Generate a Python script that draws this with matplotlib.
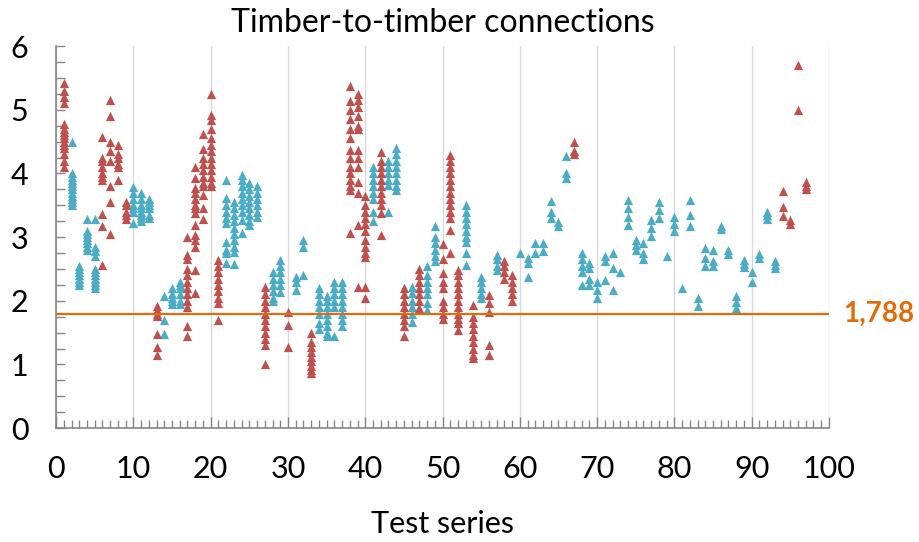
import matplotlib
matplotlib.use("Agg")
import matplotlib.pyplot as plt
from matplotlib.ticker import MultipleLocator

plt.rcParams['font.family'] = ['Lato', 'DejaVu Sans']

# ---- data ----
red_x = [1, 6, 7, 8, 9, 13, 17, 18, 19, 20, 21, 27, 30, 33, 38, 39, 40, 42, 45,
         47, 50, 51, 52, 54, 56, 58, 59, 67, 94, 95, 96, 97]
red_y = [
    [5.42, 5.3, 5.2, 5.1, 4.78, 4.7, 4.65, 4.6, 4.55, 4.5, 4.45, 4.4, 4.3, 4.2, 4.1],
    [4.57, 4.25, 4.2, 4.1, 4.0, 3.95, 3.9, 3.36, 3.17, 2.56],
    [5.16, 4.9, 4.5, 4.35, 4.2, 3.8, 3.55, 3.05],
    [4.45, 4.3, 4.25, 4.15, 4.1, 3.9],
    [3.55, 3.5, 3.4, 3.35, 3.28],
    [1.92, 1.85, 1.8, 1.76, 1.48, 1.28, 1.15],
    [3.0, 2.72, 2.65, 2.5, 2.4, 2.3, 2.2, 2.1, 2.0, 1.9, 1.6, 1.44],
    [4.1, 3.93, 3.77, 3.7, 3.6, 3.5, 3.45, 3.38, 3.19, 3.03, 2.95, 2.85, 2.48, 2.12],
    [4.62, 4.38, 4.25, 4.15, 4.05, 3.95, 3.85, 3.8, 3.66, 3.46, 3.29],
    [5.24, 4.92, 4.84, 4.69, 4.56, 4.45, 4.35, 4.25, 4.15, 4.05, 3.95, 3.85, 3.8],
    [2.64, 2.55, 2.45, 2.35, 2.25, 2.15, 2.05, 1.96, 1.7],
    [2.22, 2.1, 2.0, 1.9, 1.8, 1.7, 1.6, 1.5, 1.4, 1.3, 1.0],
    [1.83, 1.62, 1.27],
    [1.5, 1.35, 1.27, 1.2, 1.12, 1.05, 0.98, 0.92, 0.87],
    [5.37, 5.13, 5.0, 4.85, 4.7, 4.55, 4.37, 4.25, 4.1, 4.0, 3.9, 3.8, 3.74, 3.06],
    [5.24, 5.15, 5.05, 4.9, 4.75, 4.69, 4.37, 4.25, 4.1, 3.87, 3.69, 3.19, 2.22],
    [3.64, 3.5, 3.4, 3.3, 3.2, 3.1, 2.95, 2.85, 2.75, 2.69, 2.22, 2.05],
    [4.34, 4.2, 4.1, 4.0, 3.9, 3.8, 3.7, 3.6, 3.5, 3.38, 3.03],
    [2.2, 2.1, 2.0, 1.9, 1.8, 1.7, 1.6, 1.44],
    [2.5, 2.4, 2.3, 2.2, 2.1, 2.0, 1.88],
    [2.89, 2.65, 2.43, 2.3, 2.2, 2.0, 1.9, 1.8, 1.72],
    [4.29, 4.2, 4.1, 4.0, 3.9, 3.8, 3.7, 3.6, 3.5, 3.4, 3.3, 3.11, 2.75],
    [2.48, 2.4, 2.3, 2.2, 2.1, 2.0, 1.9, 1.8, 1.72, 1.65, 1.54],
    [1.94, 1.75, 1.65, 1.55, 1.45, 1.35, 1.25, 1.15, 1.1],
    [2.09, 1.96, 1.83, 1.3, 1.15],
    [2.62, 2.55, 2.45, 2.35],
    [2.4, 2.3, 2.2, 2.1, 2.0],
    [4.5, 4.35, 4.3],
    [3.72, 3.48, 3.33],
    [3.27, 3.21],
    [5.71, 4.99],
    [3.87, 3.8, 3.75],
]

cyan_x = [2, 3, 4, 5, 10, 11, 12, 14, 15, 16, 22, 23, 24, 25, 26, 28, 29, 31, 32,
          34, 35, 36, 37, 41, 43, 44, 46, 48, 49, 53, 55, 57, 60, 61, 62, 63, 64,
          65, 66, 68, 69, 70, 71, 72, 73, 74, 75, 76, 77, 78, 79, 80, 81, 82, 83,
          84, 85, 86, 87, 88, 89, 90, 91, 92, 93]
cyan_y = [
    [4.5, 4.0, 3.95, 3.9, 3.85, 3.8, 3.75, 3.7, 3.65, 3.6, 3.55, 3.5],
    [2.55, 2.5, 2.45, 2.4, 2.35, 2.3, 2.25],
    [3.28, 3.1, 3.05, 3.0, 2.95, 2.9, 2.85, 2.8],
    [3.28, 2.85, 2.78, 2.7, 2.5, 2.45, 2.4, 2.35, 2.3, 2.25, 2.2],
    [3.78, 3.7, 3.6, 3.5, 3.45, 3.4, 3.22],
    [3.7, 3.6, 3.5, 3.45, 3.4, 3.35, 3.3, 3.25],
    [3.6, 3.55, 3.5, 3.45, 3.35, 3.3],
    [2.08, 1.7, 1.48],
    [2.2, 2.1, 2.05, 2.0, 1.95],
    [2.3, 2.25, 2.2, 2.1, 2.0, 1.95],
    [3.89, 3.62, 3.5, 3.4, 3.3, 3.22, 2.93, 2.8, 2.75, 2.59],
    [3.55, 3.45, 3.35, 3.25, 3.15, 3.05, 2.95, 2.85, 2.77, 2.58],
    [3.98, 3.9, 3.8, 3.7, 3.6, 3.5, 3.4, 3.27, 3.07],
    [3.85, 3.75, 3.65, 3.55, 3.45, 3.35, 3.25, 3.19],
    [3.8, 3.7, 3.6, 3.5, 3.4, 3.32],
    [2.45, 2.35, 2.25, 2.15, 2.05, 1.99],
    [2.64, 2.55, 2.45, 2.35, 2.25, 2.14],
    [2.38, 2.3, 2.17],
    [2.95, 2.85, 2.4],
    [2.2, 2.1, 2.0, 1.9, 1.8, 1.65, 1.55],
    [2.08, 2.0, 1.9, 1.8, 1.7, 1.6, 1.5, 1.44],
    [2.3, 2.2, 2.1, 2.0, 1.9, 1.44],
    [2.3, 2.2, 2.1, 2.0, 1.9, 1.8, 1.7, 1.6],
    [4.1, 4.0, 3.9, 3.8, 3.7, 3.6, 3.4, 3.25],
    [4.2, 4.1, 4.0, 3.9, 3.82, 3.4],
    [4.4, 4.3, 4.2, 4.1, 4.0, 3.9, 3.8, 3.74],
    [2.22, 2.12, 2.0, 1.9, 1.8, 1.67],
    [2.54, 2.4, 2.3, 2.2, 2.1, 1.96, 1.86],
    [3.18, 3.0, 2.9, 2.8, 2.7, 2.62],
    [3.5, 3.4, 3.3, 3.2, 3.1, 3.0, 2.93, 2.75, 2.56],
    [2.38, 2.3, 2.2, 2.1, 2.04],
    [2.72, 2.65, 2.55, 2.48],
    [2.75],
    [2.68, 2.6, 2.38],
    [2.9, 2.75],
    [2.9, 2.78],
    [3.56, 3.4, 3.3],
    [3.24, 3.18],
    [4.27, 4.0, 3.93],
    [2.75, 2.65, 2.55, 2.45, 2.25],
    [2.6, 2.52, 2.34, 2.25],
    [2.3, 2.17, 2.04],
    [2.7, 2.62, 2.33],
    [2.75, 2.51, 2.17],
    [2.46],
    [3.58, 3.45, 3.32, 3.19],
    [2.96, 2.88, 2.8],
    [2.91, 2.75, 2.65],
    [3.27, 3.15, 3.02],
    [3.55, 3.42, 3.3],
    [2.7],
    [3.32, 3.2, 3.09],
    [2.2],
    [3.58, 3.35, 3.17],
    [2.04, 1.92],
    [2.83, 2.67, 2.55],
    [2.79, 2.62, 2.54],
    [3.17, 3.12],
    [2.79, 2.73],
    [2.07, 1.98, 1.88],
    [2.64, 2.58, 2.53],
    [2.46, 2.3],
    [2.74, 2.68],
    [3.4, 3.34, 3.28],
    [2.62, 2.56, 2.51],
]

threshold = 1.788
threshold_label = "1,788"
title = "Timber-to-timber connections"
xlabel = "Test series"

RED = "#C0504D"
CYAN = "#4BACC6"
ORANGE = "#E36C0A"

fig = plt.figure(figsize=(9.2, 5.42), dpi=100)
ax = fig.add_axes([0.061, 0.21, 0.84, 0.705])

def flatten(xs, ys):
    fx, fy = [], []
    for x, vals in zip(xs, ys):
        fx.extend([x] * len(vals))
        fy.extend(vals)
    return fx, fy

cx, cy = flatten(cyan_x, cyan_y)
rx, ry = flatten(red_x, red_y)
ax.scatter(cx, cy, marker="^", s=44, color=CYAN, linewidths=0, zorder=3)
ax.scatter(rx, ry, marker="^", s=44, color=RED, linewidths=0, zorder=3)

ax.plot([0, 100], [threshold, threshold], color=ORANGE, lw=1.6, zorder=4)
ax.text(101.8, threshold, threshold_label, color=ORANGE, fontsize=20,
        fontweight="bold", va="center", ha="left", transform=ax.transData,
        clip_on=False)

ax.set_xlim(0, 100)
ax.set_ylim(0, 6)
ax.xaxis.set_major_locator(MultipleLocator(10))
ax.xaxis.set_minor_locator(MultipleLocator(1))
ax.yaxis.set_major_locator(MultipleLocator(1))
ax.yaxis.set_minor_locator(MultipleLocator(0.25))

ax.grid(axis="x", which="major", color="#D9D9D9", lw=1.0, zorder=0)
ax.set_axisbelow(True)

for s in ["top", "right"]:
    ax.spines[s].set_visible(False)
for s in ["left", "bottom"]:
    ax.spines[s].set_color("#868686")
    ax.spines[s].set_linewidth(1.2)

ax.tick_params(axis="x", which="major", direction="in", length=8, width=1,
               color="#868686", labelsize=22, pad=19)
ax.tick_params(axis="x", which="minor", direction="in", length=5.5, width=1,
               color="#868686")
ax.tick_params(axis="y", which="both", direction="in", length=6.5, width=1,
               color="#868686", labelsize=22, pad=20)

ax.set_title(title, fontsize=23, pad=10)
ax.set_xlabel(xlabel, fontsize=22, labelpad=20)

fig.savefig("out.png", dpi=100)
